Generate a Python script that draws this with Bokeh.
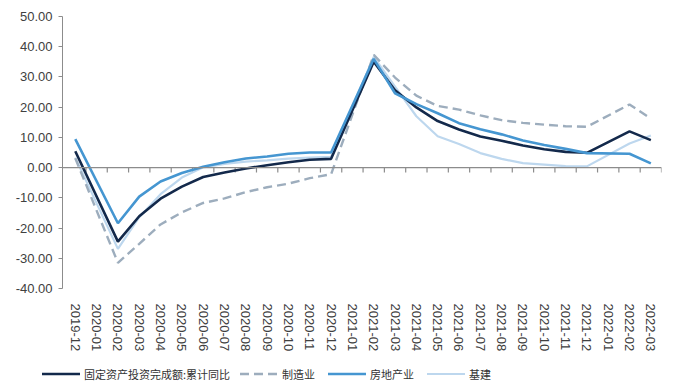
from bokeh.plotting import figure
from bokeh.layouts import column
from bokeh.models import Span, FixedTicker, PrintfTickFormatter, Range1d, ColumnDataSource, Div
from bokeh.embed import file_html
from bokeh.resources import INLINE

categories = ["2019-12", "2020-01", "2020-02", "2020-03", "2020-04", "2020-05", "2020-06",
              "2020-07", "2020-08", "2020-09", "2020-10", "2020-11", "2020-12", "2021-01",
              "2021-02", "2021-03", "2021-04", "2021-05", "2021-06", "2021-07", "2021-08",
              "2021-09", "2021-10", "2021-11", "2021-12", "2022-01", "2022-02", "2022-03"]

total = [5.4, None, -24.5, -16.1, -10.3, -6.3, -3.1, -1.6, -0.3, 0.8, 1.8, 2.6, 2.9, None,
         35.0, 25.6, 19.9, 15.4, 12.6, 10.3, 8.9, 7.3, 6.1, 5.2, 4.9, None, 12.0, 9.1]
manufacturing = [3.1, None, -31.5, -25.2, -18.8, -14.8, -11.7, -10.2, -8.1, -6.5, -5.3, -3.5, -2.2, None,
                 37.3, 29.8, 23.8, 20.4, 19.2, 17.3, 15.7, 14.8, 14.2, 13.7, 13.5, None, 20.9, 16.2]
real_estate = [9.4, None, -18.4, -9.6, -4.6, -1.8, 0.3, 1.8, 3.0, 3.7, 4.6, 5.0, 5.0, None,
               36.0, 24.6, 21.0, 18.0, 14.7, 12.7, 11.0, 9.0, 7.5, 6.2, 4.8, None, 4.6, 1.4]
infrastructure = [3.3, None, -26.9, -16.4, -8.8, -3.3, 0.1, 1.2, 2.0, 2.4, 3.0, 3.3, 3.6, None,
                  36.6, 26.8, 17.0, 10.4, 7.8, 4.8, 2.9, 1.5, 1.0, 0.5, 0.4, None, 8.0, 10.6]

names = ["固定资产投资完成额:累计同比", "制造业", "房地产业", "基建"]
y_ticks = [-40, -30, -20, -10, 0, 10, 20, 30, 40, 50]

NUM_FONT = "Liberation Sans"
CJK_FONT = "Noto Sans CJK SC"

styles = [
    dict(line_color="#13294b", line_width=2.6),
    dict(line_color="#9dadbd", line_width=2.4, line_dash="9 5"),
    dict(line_color="#4596d1", line_width=2.6),
    dict(line_color="#bdd7ee", line_width=2.2),
]

p = figure(width=670, height=355, output_backend="svg", toolbar_location=None,
           x_range=Range1d(-0.6, len(categories) - 0.5), y_range=Range1d(-40, 50),
           min_border_left=62, min_border_right=9, min_border_top=16, min_border_bottom=67)
p.outline_line_color = None
p.xgrid.visible = False
p.ygrid.visible = False

# y axis
p.yaxis.ticker = FixedTicker(ticks=y_ticks)
p.yaxis.formatter = PrintfTickFormatter(format="%.2f")
p.yaxis.axis_line_color = "#8c8c8c"
p.yaxis.major_tick_line_color = "#8c8c8c"
p.yaxis.major_tick_out = 4
p.yaxis.major_tick_in = 0
p.yaxis.minor_tick_line_color = None
p.yaxis.major_label_text_font = NUM_FONT
p.yaxis.major_label_text_font_size = "13px"
p.yaxis.major_label_text_color = "#404040"
p.yaxis.major_label_standoff = 6

# x axis (labels only, at bottom)
idx = list(range(len(categories)))
p.xaxis.ticker = FixedTicker(ticks=idx)
p.xaxis.major_label_overrides = {i: c for i, c in enumerate(categories)}
p.xaxis.major_label_orientation = "vertical"
p.xaxis.axis_line_color = None
p.xaxis.major_tick_line_color = None
p.xaxis.minor_tick_line_color = None
p.xaxis.major_label_text_font = NUM_FONT
p.xaxis.major_label_text_font_size = "13px"
p.xaxis.major_label_text_color = "#404040"
p.xaxis.major_label_standoff = 9

# zero line with category boundary ticks
p.add_layout(Span(location=0, dimension="width", line_color="#8c8c8c", line_width=1.2))
bx = [i + 0.5 for i in idx]
p.segment(x0=bx, x1=bx, y0=[0] * len(bx), y1=[-1.6] * len(bx), line_color="#8c8c8c", line_width=1.2)


def series(vals):
    xs = [i for i, v in zip(idx, vals) if v is not None]
    ys = [v for v in vals if v is not None]
    return ColumnDataSource(dict(x=xs, y=ys))


p.line("x", "y", source=series(infrastructure), **styles[3])
p.line("x", "y", source=series(manufacturing), **styles[1])
p.line("x", "y", source=series(total), **styles[0])
p.line("x", "y", source=series(real_estate), **styles[2])

# legend strip below the chart (HTML legend with inline SVG samples)
legend_left = [42, 240, 328, 427]
parts = []
for name, st, left in zip(names, styles, legend_left):
    dash = st.get("line_dash")
    dash_attr = f' stroke-dasharray="{dash}"' if dash else ""
    parts.append(
        f'<div style="position:absolute;left:{left}px;top:10px;height:18px;display:flex;align-items:center;white-space:nowrap;">'
        f'<svg width="38" height="6" style="display:block"><line x1="0" y1="3" x2="38" y2="3" '
        f'stroke="{st["line_color"]}" stroke-width="{st["line_width"]}"{dash_attr}/></svg>'
        f'<span style="margin-left:4px;font-family:\'{CJK_FONT}\';font-size:11px;color:#333333;line-height:18px;">{name}</span>'
        f'</div>'
    )
legend_div = Div(text='<div style="position:relative;width:670px;height:36px;">' + "".join(parts) + "</div>",
                 width=670, height=36, margin=0)

open("out.html", "w").write(file_html(column(p, legend_div, spacing=0), INLINE))
